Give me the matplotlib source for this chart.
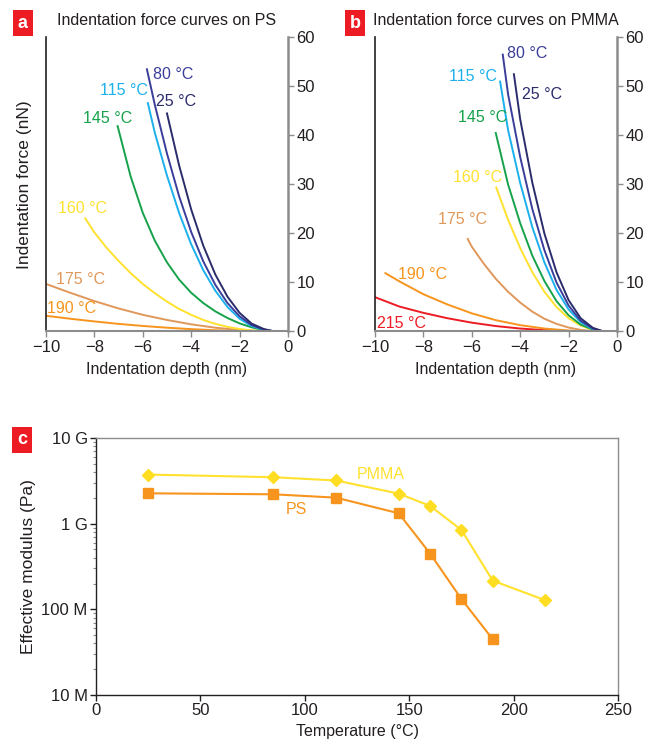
""" Indentation force curves on PS / PMMA and effective modulus vs temperature. """

import matplotlib
matplotlib.use('Agg')
import matplotlib.pyplot as plt
from matplotlib.ticker import FixedLocator, LogLocator, NullFormatter

plt.rcParams['font.family'] = ['Liberation Sans', 'DejaVu Sans']
plt.rcParams['axes.unicode_minus'] = True

TEXT = '#231f20'
GRAY = '#8c8c8c'
RED = '#ed1c24'

NAVY_25 = '#2b2c6b'
NAVY_80 = '#3a3d9a'
BLUE = '#1cb0ec'
GREEN = '#15a24a'
YELLOW = '#ffe12e'
TAN = '#e0985a'
ORANGE = '#f7941d'

# panel a, PS force curves (depth nm, force nN)
a25_d = [-5.0, -4.5, -4.0, -3.5, -3.0, -2.5, -2.0, -1.5, -1.0, -0.6, 0]
a25_f = [44.5, 33.9, 24.9, 17.5, 11.6, 7.1, 3.8, 1.6, 0.5, 0.05, 0]
a80_d = [-5.83, -5.5, -5.0, -4.5, -4.0, -3.5, -3.0, -2.5, -2.0, -1.5, -1.0, -0.6, 0]
a80_f = [53.5, 46.2, 36.3, 27.6, 20.3, 14.3, 9.5, 5.8, 3.1, 1.3, 0.4, 0.05, 0]
a115_d = [-5.79, -5.5, -5.0, -4.5, -4.0, -3.5, -3.0, -2.5, -2.0, -1.5, -1.0, -0.6, 0]
a115_f = [46.6, 40.5, 31.8, 24.2, 17.8, 12.5, 8.3, 5.0, 2.6, 1.1, 0.35, 0.05, 0]
a145_d = [-7.04, -6.5, -6.0, -5.5, -5.0, -4.5, -4.0, -3.5, -3.0, -2.5, -2.0, -1.5, -1.0, -0.6, 0]
a145_f = [41.9, 31.6, 24.2, 18.5, 14.1, 10.6, 7.9, 5.8, 4.1, 2.75, 1.65, 0.85, 0.3, 0.05, 0]
a160_d = [-8.38, -8.0, -7.5, -7.0, -6.5, -6.0, -5.5, -5.0, -4.5, -4.0, -3.5, -3.0,
          -2.5, -2.0, -1.5, -1.0, -0.6, 0]
a160_f = [23.1, 20.2, 17.1, 14.4, 11.9, 9.7, 7.8, 6.1, 4.6, 3.4, 2.35, 1.55,
          0.95, 0.5, 0.22, 0.07, 0.01, 0]
a175_d = [-10, -9, -8, -7, -6, -5, -4, -3, -2, -1, -0.6, 0]
a175_f = [9.7, 7.9, 6.2, 4.7, 3.4, 2.35, 1.46, 0.77, 0.3, 0.06, 0.01, 0]
a190_d = [-10, -9, -8, -7, -6, -5, -4, -3, -2, -1, -0.6, 0]
a190_f = [3.2, 2.6, 2.05, 1.55, 1.13, 0.77, 0.48, 0.25, 0.1, 0.02, 0, 0]

# panel b, PMMA force curves
b25_d = [-4.26, -4.0, -3.5, -3.0, -2.5, -2.0, -1.5, -1.0, -0.6, 0]
b25_f = [52.5, 43.3, 30.4, 20.0, 12.1, 6.4, 2.7, 0.75, 0.08, 0]
b80_d = [-4.72, -4.5, -4.0, -3.5, -3.0, -2.5, -2.0, -1.5, -1.0, -0.6, 0]
b80_f = [56.5, 48.4, 35.6, 25.0, 16.6, 10.0, 5.3, 2.2, 0.6, 0.06, 0]
b115_d = [-4.83, -4.5, -4.0, -3.5, -3.0, -2.5, -2.0, -1.5, -1.0, -0.6, 0]
b115_f = [51.0, 41.1, 30.3, 21.3, 14.1, 8.5, 4.5, 1.9, 0.5, 0.05, 0]
b145_d = [-5.01, -4.5, -4.0, -3.5, -3.0, -2.5, -2.0, -1.5, -1.0, -0.6, 0]
b145_f = [40.5, 30.0, 22.1, 15.5, 10.3, 6.2, 3.3, 1.4, 0.4, 0.04, 0]
b160_d = [-4.99, -4.5, -4.0, -3.5, -3.0, -2.5, -2.0, -1.5, -1.0, -0.6, 0]
b160_f = [29.4, 22.8, 17.0, 12.1, 8.1, 5.0, 2.7, 1.2, 0.35, 0.03, 0]
b175_d = [-6.17, -6.0, -5.5, -5.0, -4.5, -4.0, -3.5, -3.0, -2.5, -2.0, -1.5, -1.0, -0.6, 0]
b175_f = [18.9, 17.3, 13.8, 10.7, 8.1, 5.9, 4.05, 2.6, 1.55, 0.8, 0.33, 0.09, 0.01, 0]
b190_d = [-9.57, -9, -8, -7, -6, -5, -4, -3, -2, -1, -0.6, 0]
b190_f = [11.9, 10.25, 7.6, 5.5, 3.7, 2.3, 1.29, 0.6, 0.2, 0.03, 0, 0]
b215_d = [-10, -9, -8, -7, -6, -5, -4, -3, -2, -1, -0.6, 0]
b215_f = [7.0, 5.1, 3.8, 2.7, 1.8, 1.1, 0.6, 0.28, 0.09, 0.01, 0, 0]

# panel c, effective modulus (Pa)
ps_temp = [25, 85, 115, 145, 160, 175, 190]
ps_modulus = [2.26e9, 2.2e9, 2.01e9, 1.32e9, 4.47e8, 1.32e8, 4.47e7]
pmma_temp = [25, 85, 115, 145, 160, 175, 190, 215]
pmma_modulus = [3.74e9, 3.48e9, 3.19e9, 2.24e9, 1.61e9, 8.45e8, 2.16e8, 1.28e8]

depth_ticks = [-10, -8, -6, -4, -2, 0]
force_ticks = [0, 10, 20, 30, 40, 50, 60]
temp_ticks = [0, 50, 100, 150, 200, 250]
modulus_ticks = [1e7, 1e8, 1e9, 1e10]
modulus_labels = ['10 M', '100 M', '1 G', '10 G']

# (depth, force, colour, label, label depth, label force)
curves_a = [
    (a190_d, a190_f, ORANGE, '190 °C', -9.97, 4.6),
    (a175_d, a175_f, TAN, '175 °C', -9.6, 10.7),
    (a160_d, a160_f, YELLOW, '160 °C', -9.5, 25.0),
    (a145_d, a145_f, GREEN, '145 °C', -8.47, 43.5),
    (a115_d, a115_f, BLUE, '115 °C', -7.77, 49.2),
    (a80_d, a80_f, NAVY_80, '80 °C', -5.58, 52.5),
    (a25_d, a25_f, NAVY_25, '25 °C', -5.45, 47.0),
]
curves_b = [
    (b215_d, b215_f, RED, '215 °C', -9.92, 1.6),
    (b190_d, b190_f, ORANGE, '190 °C', -9.05, 11.6),
    (b175_d, b175_f, TAN, '175 °C', -7.4, 22.8),
    (b160_d, b160_f, YELLOW, '160 °C', -6.78, 31.5),
    (b145_d, b145_f, GREEN, '145 °C', -6.57, 43.6),
    (b115_d, b115_f, BLUE, '115 °C', -6.94, 52.1),
    (b80_d, b80_f, NAVY_80, '80 °C', -4.56, 56.7),
    (b25_d, b25_f, NAVY_25, '25 °C', -3.94, 48.3),
]


def panel_letter(fig, x, y, letter):
    fig.text(x, y, letter, color='white', fontsize=13, fontweight='bold',
             ha='center', va='center',
             bbox=dict(boxstyle='square,pad=0.25', fc=RED, ec='none'))


def force_panel(ax, curves, title):
    for d, f, colour, label, lx, ly in curves:
        ax.plot(d, f, color=colour, lw=1.4, solid_joinstyle='round')
        ax.text(lx, ly, label, color=colour, fontsize=11.5, ha='left', va='center')

    ax.set_xlim(-10, 0)
    ax.set_ylim(0, 60)
    ax.xaxis.set_major_locator(FixedLocator(depth_ticks))
    ax.yaxis.set_major_locator(FixedLocator(force_ticks))
    ax.yaxis.tick_right()
    ax.tick_params(axis='both', direction='out', length=4, width=1, color=GRAY,
                   labelsize=12, labelcolor=TEXT, pad=2)

    ax.spines['top'].set_visible(False)
    ax.spines['left'].set_color(TEXT)
    ax.spines['left'].set_linewidth(1.2)
    ax.spines['right'].set_color(GRAY)
    ax.spines['right'].set_linewidth(1.8)
    ax.spines['bottom'].set_color(GRAY)
    ax.spines['bottom'].set_linewidth(1.5)

    ax.set_xlabel('Indentation depth (nm)', fontsize=11.5, color=TEXT, labelpad=5)
    ax.set_title(title, fontsize=11.5, color=TEXT, pad=9)


fig = plt.figure(figsize=(6.47, 7.52), dpi=100)

ax_a = fig.add_axes([0.0711, 0.5592, 0.374, 0.391])
ax_b = fig.add_axes([0.5796, 0.5592, 0.374, 0.391])
ax_c = fig.add_axes([0.1484, 0.0758, 0.8068, 0.3418])

force_panel(ax_a, curves_a, 'Indentation force curves on PS')
force_panel(ax_b, curves_b, 'Indentation force curves on PMMA')
ax_a.set_ylabel('Indentation force (nN)', fontsize=12.5, color=TEXT, labelpad=10)

# modulus panel
ax_c.plot(pmma_temp, pmma_modulus, color=YELLOW, lw=1.5, marker='D',
          markersize=6.5, markerfacecolor='#ffdd22', markeredgecolor='#ffdd22')
ax_c.plot(ps_temp, ps_modulus, color=ORANGE, lw=1.5, marker='s',
          markersize=7, markerfacecolor=ORANGE, markeredgecolor=ORANGE)
ax_c.text(125, 3.7e9, 'PMMA', color=YELLOW, fontsize=11.5, ha='left', va='center')
ax_c.text(91, 1.45e9, 'PS', color=ORANGE, fontsize=11.5, ha='left', va='center')

ax_c.set_yscale('log')
ax_c.set_xlim(0, 250)
ax_c.set_ylim(1e7, 1e10)
ax_c.xaxis.set_major_locator(FixedLocator(temp_ticks))
ax_c.yaxis.set_major_locator(FixedLocator(modulus_ticks))
ax_c.set_yticklabels(modulus_labels)
ax_c.yaxis.set_minor_locator(LogLocator(base=10, subs=range(2, 10)))
ax_c.yaxis.set_minor_formatter(NullFormatter())
ax_c.tick_params(axis='both', which='major', direction='out', length=4, width=1,
                 color=TEXT, labelsize=12, labelcolor=TEXT, pad=2)
ax_c.tick_params(axis='y', which='minor', direction='out', length=2.5, width=0.8,
                 color=GRAY)
for side in ['top', 'right']:
    ax_c.spines[side].set_color(GRAY)
    ax_c.spines[side].set_linewidth(1)
for side in ['left', 'bottom']:
    ax_c.spines[side].set_color(TEXT)
    ax_c.spines[side].set_linewidth(1)
ax_c.set_xlabel('Temperature (°C)', fontsize=11.5, color=TEXT, labelpad=4)
ax_c.set_ylabel('Effective modulus (Pa)', fontsize=12.5, color=TEXT, labelpad=4)

panel_letter(fig, 23 / 647, 1 - 23 / 752, 'a')
panel_letter(fig, 355 / 647, 1 - 23 / 752, 'b')
panel_letter(fig, 22 / 647, 1 - 440 / 752, 'c')

fig.savefig('out.png', dpi=100)
